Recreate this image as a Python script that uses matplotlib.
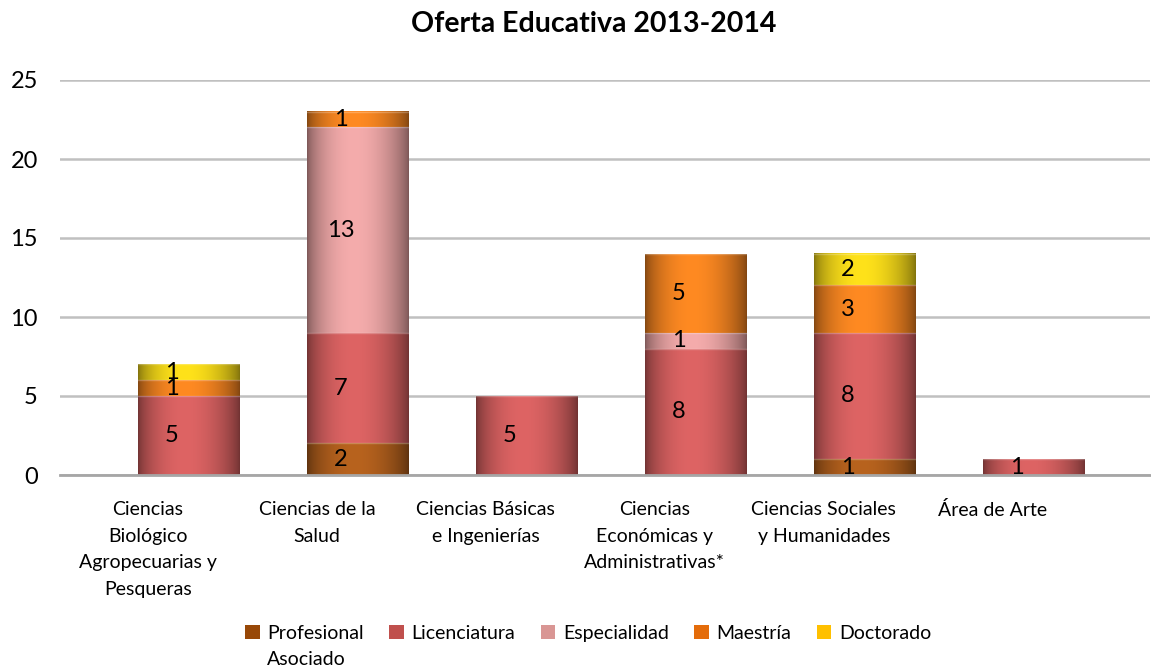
import matplotlib.pyplot as plt
import numpy as np
from matplotlib.colors import to_rgb
from matplotlib.patches import Patch

plt.rcParams['font.family'] = ['Lato', 'DejaVu Sans']

# data
categories = ["Ciencias\nBiológico\nAgropecuarias y\nPesqueras", "Ciencias de la\nSalud",
              "Ciencias Básicas\ne Ingenierías", "Ciencias\nEconómicas y\nAdministrativas*",
              "Ciencias Sociales\ny Humanidades", "Área de Arte"]
series = ["Profesional\nAsociado", "Licenciatura", "Especialidad", "Maestría", "Doctorado"]
profesional_asociado = [0, 2, 0, 0, 1, 0]
licenciatura = [5, 7, 5, 8, 8, 1]
especialidad = [0, 13, 0, 1, 0, 0]
maestria = [1, 1, 0, 5, 3, 0]
doctorado = [1, 0, 0, 0, 2, 0]
values = [profesional_asociado, licenciatura, especialidad, maestria, doctorado]

legend_colors = ['#984807', '#C0504D', '#D99694', '#E46C0A', '#FFC000']
light_colors = ['#B8631E', '#DE6464', '#F5ACAC', '#FF8A22', '#FFE21A']

fig = plt.figure(figsize=(11.51, 6.66), dpi=100)
ax = fig.add_axes([60 / 1151, 1 - 475 / 666, 1090 / 1151, 395 / 666])

x = np.arange(len(categories))
width = 0.6
offset = 0.24  # 3D-ish shift of the bars to the right of the category

# cylinder shading across a bar
t = np.linspace(0, 1, 200)
shade = 0.5 + 0.5 * np.sin(np.pi * t ** 0.9) ** 0.7

bottom = np.zeros(len(categories))
for vals, light in zip(values, light_colors):
    vals = np.array(vals)
    bars = ax.bar(x + offset, vals, width, bottom=bottom, color='none', edgecolor='none', zorder=2)
    grad = np.array(to_rgb(light))[None, None, :] * shade[None, :, None]
    for rect, v in zip(bars, vals):
        if v == 0:
            continue
        x0, y0 = rect.get_x(), rect.get_y()
        ax.imshow(grad, extent=[x0, x0 + rect.get_width(), y0, y0 + rect.get_height()],
                  aspect='auto', zorder=2, interpolation='bilinear')
        ax.plot([x0, x0 + rect.get_width()], [y0 + v, y0 + v], color='white', alpha=0.25, lw=1, zorder=3)
        ax.text(x0 + rect.get_width() / 2 - 0.1, y0 + v / 2, str(v), ha='center', va='center',
                fontsize=17, color='black', zorder=4)
    bottom += vals

ax.set_xlim(-0.52, 5.93)
ax.set_ylim(0, 25)
ax.set_yticks(range(0, 26, 5))
ax.set_xticks(x)
ax.set_xticklabels(categories, fontsize=14, linespacing=1.68, va='top')
ax.tick_params(axis='y', length=0, pad=16, labelsize=17)
ax.tick_params(axis='x', length=0, pad=19)
ax.yaxis.grid(True, color='#C0C0C0', lw=1.8)
ax.set_axisbelow(True)
for s in ['left', 'right', 'top']:
    ax.spines[s].set_visible(False)
ax.spines['bottom'].set_color('#A6A6A6')
ax.spines['bottom'].set_linewidth(2)

fig.text(594 / 1151, 1 - 24 / 666, 'Oferta Educativa 2013-2014', ha='center', va='center',
         fontsize=20.5, fontweight='bold')

# legend: first line of each label next to the square, any further line below it
handles = [Patch(facecolor=c) for c in legend_colors]
first_lines = [s.split('\n')[0] for s in series]
leg = fig.legend(handles, first_lines, loc='upper left', bbox_to_anchor=(245 / 1151, 1 - 625 / 666),
                 ncol=5, frameon=False, fontsize=14, handlelength=0.75, handleheight=0.75,
                 handletextpad=0.4, columnspacing=1.3, borderpad=0, borderaxespad=0)
fig.canvas.draw()
for txt, s in zip(leg.get_texts(), series):
    rest = s.split('\n')[1:]
    if rest:
        bb = txt.get_window_extent()
        fig.text(bb.x0 / fig.bbox.width, (bb.y0 - 9) / fig.bbox.height, '\n'.join(rest),
                 ha='left', va='top', fontsize=14)

fig.savefig('out.png', dpi=100)
